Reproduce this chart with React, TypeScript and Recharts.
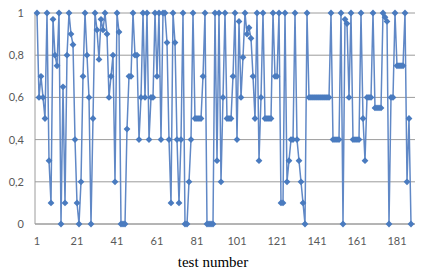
import { LineChart, Line, XAxis, YAxis, CartesianGrid } from "recharts";

// scores per test (tests 1..188)
const scores: number[] = [
  1, 0.6, 0.7, 0.6, 0.5, 1, 0.3, 0.1, 0.97, 0.8,
  0.75, 1, 0, 0.65, 0.1, 0.8, 1, 0.9, 0.85, 0.4,
  0.1, 0, 0.2, 0.7, 1, 0.8, 0.6, 0, 0.5, 1,
  0.92, 0.78, 0.97, 0.92, 1, 0.9, 0.6, 0.7, 0.8, 0.2,
  1, 0.91, 0, 0, 0, 0.45, 0.7, 0.7, 1, 0.8,
  0.8, 0.4, 0.6, 1, 0.6, 1, 0.4, 0.6, 0.6, 1,
  0.7, 1, 0.4, 1, 1, 0.86, 0.4, 0.1, 1, 0.86,
  0.4, 0.1, 0.4, 1, 0, 0, 0.2, 0.4, 1, 0.5,
  0.5, 0.5, 0.5, 0.7, 1, 0, 0, 0, 0, 1,
  0.3, 1, 0.2, 0.6, 1, 0.5, 0.5, 0.5, 0.7, 1,
  0.4, 0.96, 0.6, 0.79, 1, 0.9, 0.93, 0.88, 0.7, 0.5,
  1, 0.3, 0.6, 1, 0.5, 0.5, 0.5, 0.5, 1, 0.7,
  0.7, 1, 0.1, 0.1, 1, 0.2, 0.3, 0.4, 0.4, 1,
  0.4, 0.3, 0.2, 0.1, 0, 1, 0.6, 0.6, 0.6, 0.6,
  0.6, 0.6, 0.6, 0.6, 0.6, 0.6, 0.6, 1, 0.4, 0.4,
  0.4, 0.4, 1, 0, 0.97, 0.95, 0.6, 1, 0.4, 0.4,
  0.4, 0.4, 1, 0.5, 0.3, 0.6, 0.6, 0.6, 1, 0.55,
  0.55, 0.55, 0.55, 1, 0.98, 0.96, 0, 0.6, 0.6, 1,
  0.75, 0.75, 0.75, 0.75, 1, 0.2, 0.5, 0,
];

const xTicks = [1, 21, 41, 61, 81, 101, 121, 141, 161, 181];
const yTicks = [0, 0.2, 0.4, 0.6, 0.8, 1];

const data = scores.map((v, i) => ({ n: i + 1, v }));

const fmtY = (v: number) => String(v).replace(".", ",");

function Diamond(props: { cx?: number; cy?: number }) {
  const { cx, cy } = props;
  if (cx == null || cy == null) return null;
  const r = 3.4;
  return (
    <polygon
      points={`${cx},${cy - r} ${cx + r},${cy} ${cx},${cy + r} ${cx - r},${cy}`}
      fill="#4a7bbf"
      stroke="none"
    />
  );
}

const tickStyle = { fontSize: 11, fill: "#595959", fontFamily: "Lato, 'Open Sans', sans-serif" };

export default function App() {
  return (
    <div style={{ width: 426, height: 269, background: "#fff" }}>
      <style>{`body{margin:0}`}</style>
      <LineChart width={426} height={269} data={data} margin={{ top: 13, right: 11, bottom: 0, left: 0 }}>
        <CartesianGrid vertical={false} stroke="#9c9c9c" strokeWidth={1} />
        <XAxis
          dataKey="n"
          type="category"
          ticks={xTicks}
          interval={0}
          tickLine={false}
          axisLine={{ stroke: "#9c9c9c" }}
          tick={tickStyle}
          tickMargin={7}
          padding={{ left: 2, right: 4 }}
          height={45}
          label={{
            value: "test number",
            position: "insideBottom",
            offset: 2,
            dx: -12,
            style: { fontSize: 15, fill: "#000", fontFamily: "'Liberation Serif', 'Times New Roman', serif" },
          }}
        />
        <YAxis
          domain={[0, 1]}
          ticks={yTicks}
          tickFormatter={fmtY}
          tickLine={false}
          axisLine={{ stroke: "#9c9c9c" }}
          tick={tickStyle}
          tickMargin={5}
          width={35}
        />
        <Line
          type="linear"
          dataKey="v"
          stroke="#6088c6"
          strokeWidth={1.5}
          dot={<Diamond />}
          activeDot={false}
          isAnimationActive={false}
        />
      </LineChart>
    </div>
  );
}
